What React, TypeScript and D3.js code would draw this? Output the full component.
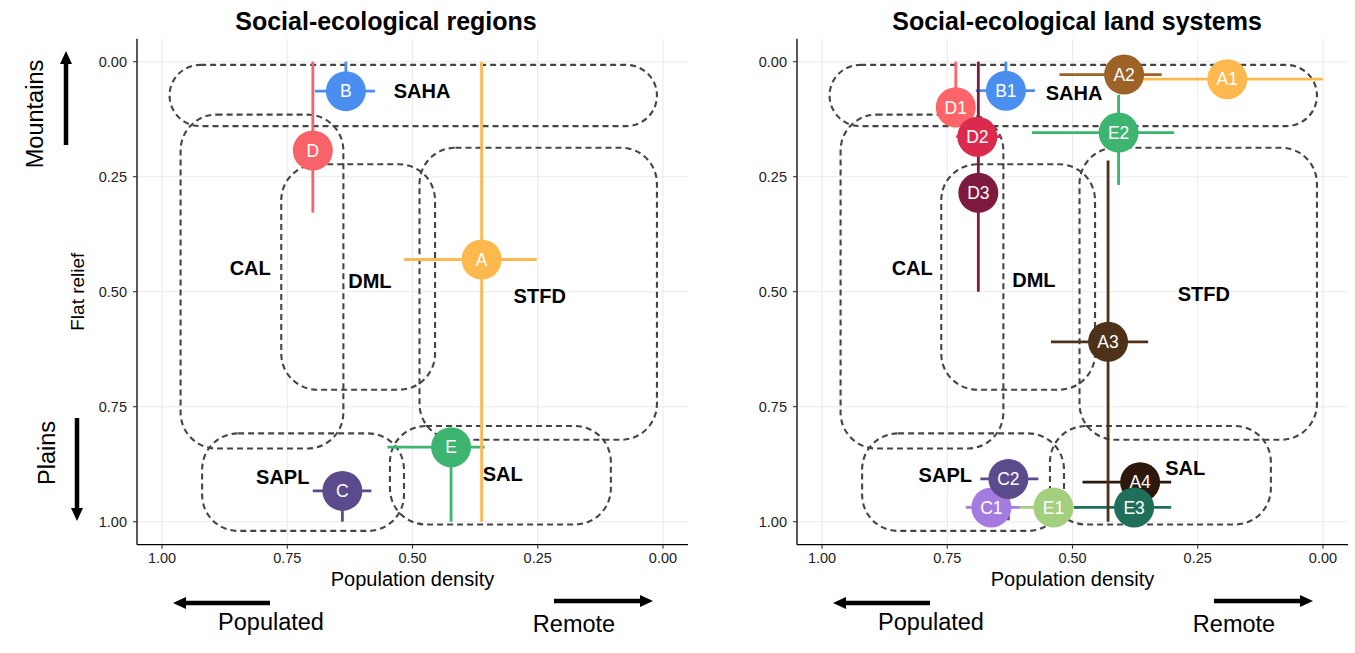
import React from 'react';
import * as d3 from 'd3';

// ---------- data ----------
const xTicks = [1.0, 0.75, 0.5, 0.25, 0.0];
const yTicks = [0.0, 0.25, 0.5, 0.75, 1.0];

// dashed outlines of social-ecological regions (data units)
const boxNames = ['SAHA', 'CAL', 'DML', 'STFD', 'SAPL', 'SAL'];
const boxPopFrom = [0.985, 0.963, 0.762, 0.486, 0.920, 0.545];
const boxPopTo = [0.012, 0.638, 0.455, 0.012, 0.517, 0.104];
const boxReliefFrom = [0.007, 0.115, 0.223, 0.187, 0.808, 0.792];
const boxReliefTo = [0.140, 0.841, 0.713, 0.822, 1.020, 1.006];

const leftLabelPop = [0.481, 0.824, 0.585, 0.246, 0.759, 0.320];
const leftLabelRelief = [0.064, 0.449, 0.476, 0.509, 0.902, 0.896];
const rightLabelPop = [0.497, 0.820, 0.577, 0.238, 0.754, 0.275];
const rightLabelRelief = [0.067, 0.447, 0.475, 0.505, 0.898, 0.882];

// regions (left)
const regionIds = ['A', 'B', 'C', 'D', 'E'];
const regionPop = [0.362, 0.633, 0.640, 0.699, 0.423];
const regionRelief = [0.430, 0.064, 0.933, 0.193, 0.838];
const regionPopLo = [0.252, 0.575, 0.582, 0.685, 0.356];
const regionPopHi = [0.517, 0.695, 0.699, 0.713, 0.550];
const regionReliefLo = [0.0, 0.0, 0.90, 0.0, 0.80];
const regionReliefHi = [1.0, 0.09, 1.0, 0.328, 1.0];
const regionColors = ['#FDB94E', '#4A8FF0', '#5B4A8C', '#F8636A', '#3DB46F'];

// land systems (right)
const systemIds = ['A1', 'A2', 'A3', 'A4', 'B1', 'C1', 'C2', 'D1', 'D2', 'D3', 'E1', 'E2', 'E3'];
const systemPop = [0.191, 0.397, 0.429, 0.365, 0.633, 0.662, 0.628, 0.733, 0.690, 0.688, 0.538, 0.408, 0.377];
const systemRelief = [0.038, 0.028, 0.609, 0.914, 0.063, 0.969, 0.907, 0.099, 0.163, 0.285, 0.969, 0.154, 0.969];
const systemPopLo = [0.0, 0.322, 0.349, 0.303, 0.575, 0.603, 0.568, 0.72, 0.643, 0.675, 0.483, 0.297, 0.303];
const systemPopHi = [0.359, 0.526, 0.543, 0.480, 0.693, 0.713, 0.684, 0.745, 0.732, 0.70, 0.606, 0.581, 0.497];
const systemReliefLo = [0.02, 0.01, 0.215, 0.89, 0.0, 0.95, 0.88, 0.0, 0.14, 0.0, 0.95, 0.072, 0.95];
const systemReliefHi = [0.06, 0.05, 1.0, 0.94, 0.09, 0.99, 0.997, 0.12, 0.19, 0.5, 0.99, 0.268, 0.99];
const systemColors = ['#FDB94E', '#9C6226', '#4D3219', '#2C190B', '#4A8FF0', '#A57BDF', '#5B4A8C',
  '#FF6468', '#DA2A4E', '#7F1A3F', '#A4CF7E', '#3DB46F', '#1F6F5A'];

// ---------- layout ----------
const W = 1355;
const H = 653;
const FONT = '"Liberation Sans", Arial, Helvetica, sans-serif';
const panelTop = 38.7;
const panelBottom = 544.7;
const panelWidth = 551;

type PanelProps = {
  left: number;
  title: string;
  titleX: number;
  ids: string[];
  pop: number[];
  relief: number[];
  popLo: number[];
  popHi: number[];
  reliefLo: number[];
  reliefHi: number[];
  colors: string[];
  labelPop: number[];
  labelRelief: number[];
  showYTitle: boolean;
};

function Arrow({ x1, y1, x2, y2 }: { x1: number; y1: number; x2: number; y2: number }) {
  const ang = Math.atan2(y2 - y1, x2 - x1);
  const len = 13;
  const half = 6;
  const bx = x2 - len * Math.cos(ang);
  const by = y2 - len * Math.sin(ang);
  const px = -Math.sin(ang) * half;
  const py = Math.cos(ang) * half;
  return (
    <g>
      <line x1={x1} y1={y1} x2={bx} y2={by} stroke="#000" strokeWidth={4.5} />
      <path d={`M${x2},${y2}L${bx + px},${by + py}L${bx - px},${by - py}Z`} fill="#000" />
    </g>
  );
}

function Panel(p: PanelProps) {
  const x = d3.scaleLinear().domain([1.05, -0.05]).range([p.left, p.left + panelWidth]);
  const y = d3.scaleLinear().domain([-0.05, 1.05]).range([panelTop, panelBottom]);
  const fmt = d3.format('.2f');
  const cr = 20;
  const roundR = 36;
  const order = d3.range(p.ids.length);
  const midX = (x.range()[0] + x.range()[1]) / 2;
  return (
    <g>
      {/* grid */}
      {xTicks.map((t) => (
        <line key={'gx' + t} x1={x(t)} x2={x(t)} y1={panelTop} y2={panelBottom} stroke="#EBEBEB" strokeWidth={1.1} />
      ))}
      {yTicks.map((t) => (
        <line key={'gy' + t} x1={x.range()[0]} x2={x.range()[1]} y1={y(t)} y2={y(t)} stroke="#EBEBEB" strokeWidth={1.1} />
      ))}
      {/* dashed region outlines */}
      {boxNames.map((n, i) => {
        const x0 = x(boxPopFrom[i]);
        const x1 = x(boxPopTo[i]);
        const y0 = y(boxReliefFrom[i]);
        const y1 = y(boxReliefTo[i]);
        const w = x1 - x0;
        const h = y1 - y0;
        const r = Math.min(roundR, w / 2, h / 2);
        return (
          <rect key={'b' + n} x={x0} y={y0} width={w} height={h} rx={r} ry={r}
            fill="none" stroke="#454545" strokeWidth={2.1} strokeDasharray="6,4" />
        );
      })}
      {/* region labels */}
      {boxNames.map((n, i) => (
        <text key={'l' + n} x={x(p.labelPop[i])} y={y(p.labelRelief[i])} dy="0.36em" textAnchor="middle"
          fontFamily={FONT} fontWeight="bold" fontSize={20} fill="#000">{n}</text>
      ))}
      {/* horizontal error bars */}
      {order.map((i) => (
        <line key={'h' + i} x1={x(p.popHi[i])} x2={x(p.popLo[i])} y1={y(p.relief[i])} y2={y(p.relief[i])}
          stroke={p.colors[i]} strokeWidth={2.8} />
      ))}
      {/* vertical error bars */}
      {order.map((i) => (
        <line key={'v' + i} x1={x(p.pop[i])} x2={x(p.pop[i])} y1={y(p.reliefLo[i])} y2={y(p.reliefHi[i])}
          stroke={p.colors[i]} strokeWidth={2.8} />
      ))}
      {/* points */}
      {order.map((i) => (
        <g key={'p' + i}>
          <circle cx={x(p.pop[i])} cy={y(p.relief[i])} r={cr} fill={p.colors[i]} />
          <text x={x(p.pop[i])} y={y(p.relief[i])} dy="0.36em" textAnchor="middle" fontFamily={FONT}
            fontSize={17.5} fill="#fff">{p.ids[i]}</text>
        </g>
      ))}
      {/* axes */}
      <line x1={x.range()[0]} x2={x.range()[1]} y1={panelBottom} y2={panelBottom} stroke="#000" strokeWidth={1.3} />
      <line x1={x.range()[0]} x2={x.range()[0]} y1={panelTop} y2={panelBottom} stroke="#000" strokeWidth={1.3} />
      {xTicks.map((t) => (
        <g key={'xt' + t}>
          <line x1={x(t)} x2={x(t)} y1={panelBottom} y2={panelBottom + 4} stroke="#333" strokeWidth={1.1} />
          <text x={x(t)} y={panelBottom + 18.5} textAnchor="middle" fontFamily={FONT} fontSize={14.5} fill="#222">{fmt(t)}</text>
        </g>
      ))}
      {yTicks.map((t) => (
        <g key={'yt' + t}>
          <line x1={x.range()[0] - 4} x2={x.range()[0]} y1={y(t)} y2={y(t)} stroke="#333" strokeWidth={1.1} />
          <text x={x.range()[0] - 10} y={y(t)} dy="0.36em" textAnchor="end" fontFamily={FONT} fontSize={14.5} fill="#222">{fmt(t)}</text>
        </g>
      ))}
      <text x={midX} y={panelBottom + 41} textAnchor="middle" fontFamily={FONT} fontSize={20} fill="#000">Population density</text>
      {p.showYTitle && (
        <text transform={`translate(${p.left - 53},${(panelTop + panelBottom) / 2}) rotate(-90)`} textAnchor="middle"
          fontFamily={FONT} fontSize={19} fill="#000">Flat relief</text>
      )}
      {/* title */}
      <text x={p.titleX} y={30} textAnchor="middle" fontFamily={FONT} fontWeight="bold" fontSize={25} fill="#000">{p.title}</text>
      {/* direction annotations */}
      <Arrow x1={p.left + 133} y1={603} x2={p.left + 36} y2={603} />
      <Arrow x1={p.left + 417} y1={601} x2={p.left + 516} y2={601} />
      <text x={p.left + 134} y={630} textAnchor="middle" fontFamily={FONT} fontSize={23.5} fill="#000">Populated</text>
      <text x={p.left + 437} y={632} textAnchor="middle" fontFamily={FONT} fontSize={23.5} fill="#000">Remote</text>
    </g>
  );
}

export default function App() {
  return (
    <div style={{ position: 'absolute', left: 0, top: 0 }}>
      <svg width={W} height={H} style={{ display: 'block', background: '#fff' }}>
        <Panel left={137} title="Social-ecological regions" titleX={386}
          ids={regionIds} pop={regionPop} relief={regionRelief} popLo={regionPopLo} popHi={regionPopHi}
          reliefLo={regionReliefLo} reliefHi={regionReliefHi} colors={regionColors}
          labelPop={leftLabelPop} labelRelief={leftLabelRelief} showYTitle={true} />
        <Panel left={797} title="Social-ecological land systems" titleX={1077}
          ids={systemIds} pop={systemPop} relief={systemRelief} popLo={systemPopLo} popHi={systemPopHi}
          reliefLo={systemReliefLo} reliefHi={systemReliefHi} colors={systemColors}
          labelPop={rightLabelPop} labelRelief={rightLabelRelief} showYTitle={false} />
        {/* relief direction annotations */}
        <Arrow x1={66} y1={145} x2={66} y2={51} />
        <Arrow x1={77} y1={418} x2={77} y2={521} />
        <text transform="translate(43,114) rotate(-90)" textAnchor="middle" fontFamily={FONT} fontSize={23.5} fill="#000">Mountains</text>
        <text transform="translate(55,453) rotate(-90)" textAnchor="middle" fontFamily={FONT} fontSize={23.5} fill="#000">Plains</text>
      </svg>
    </div>
  );
}
